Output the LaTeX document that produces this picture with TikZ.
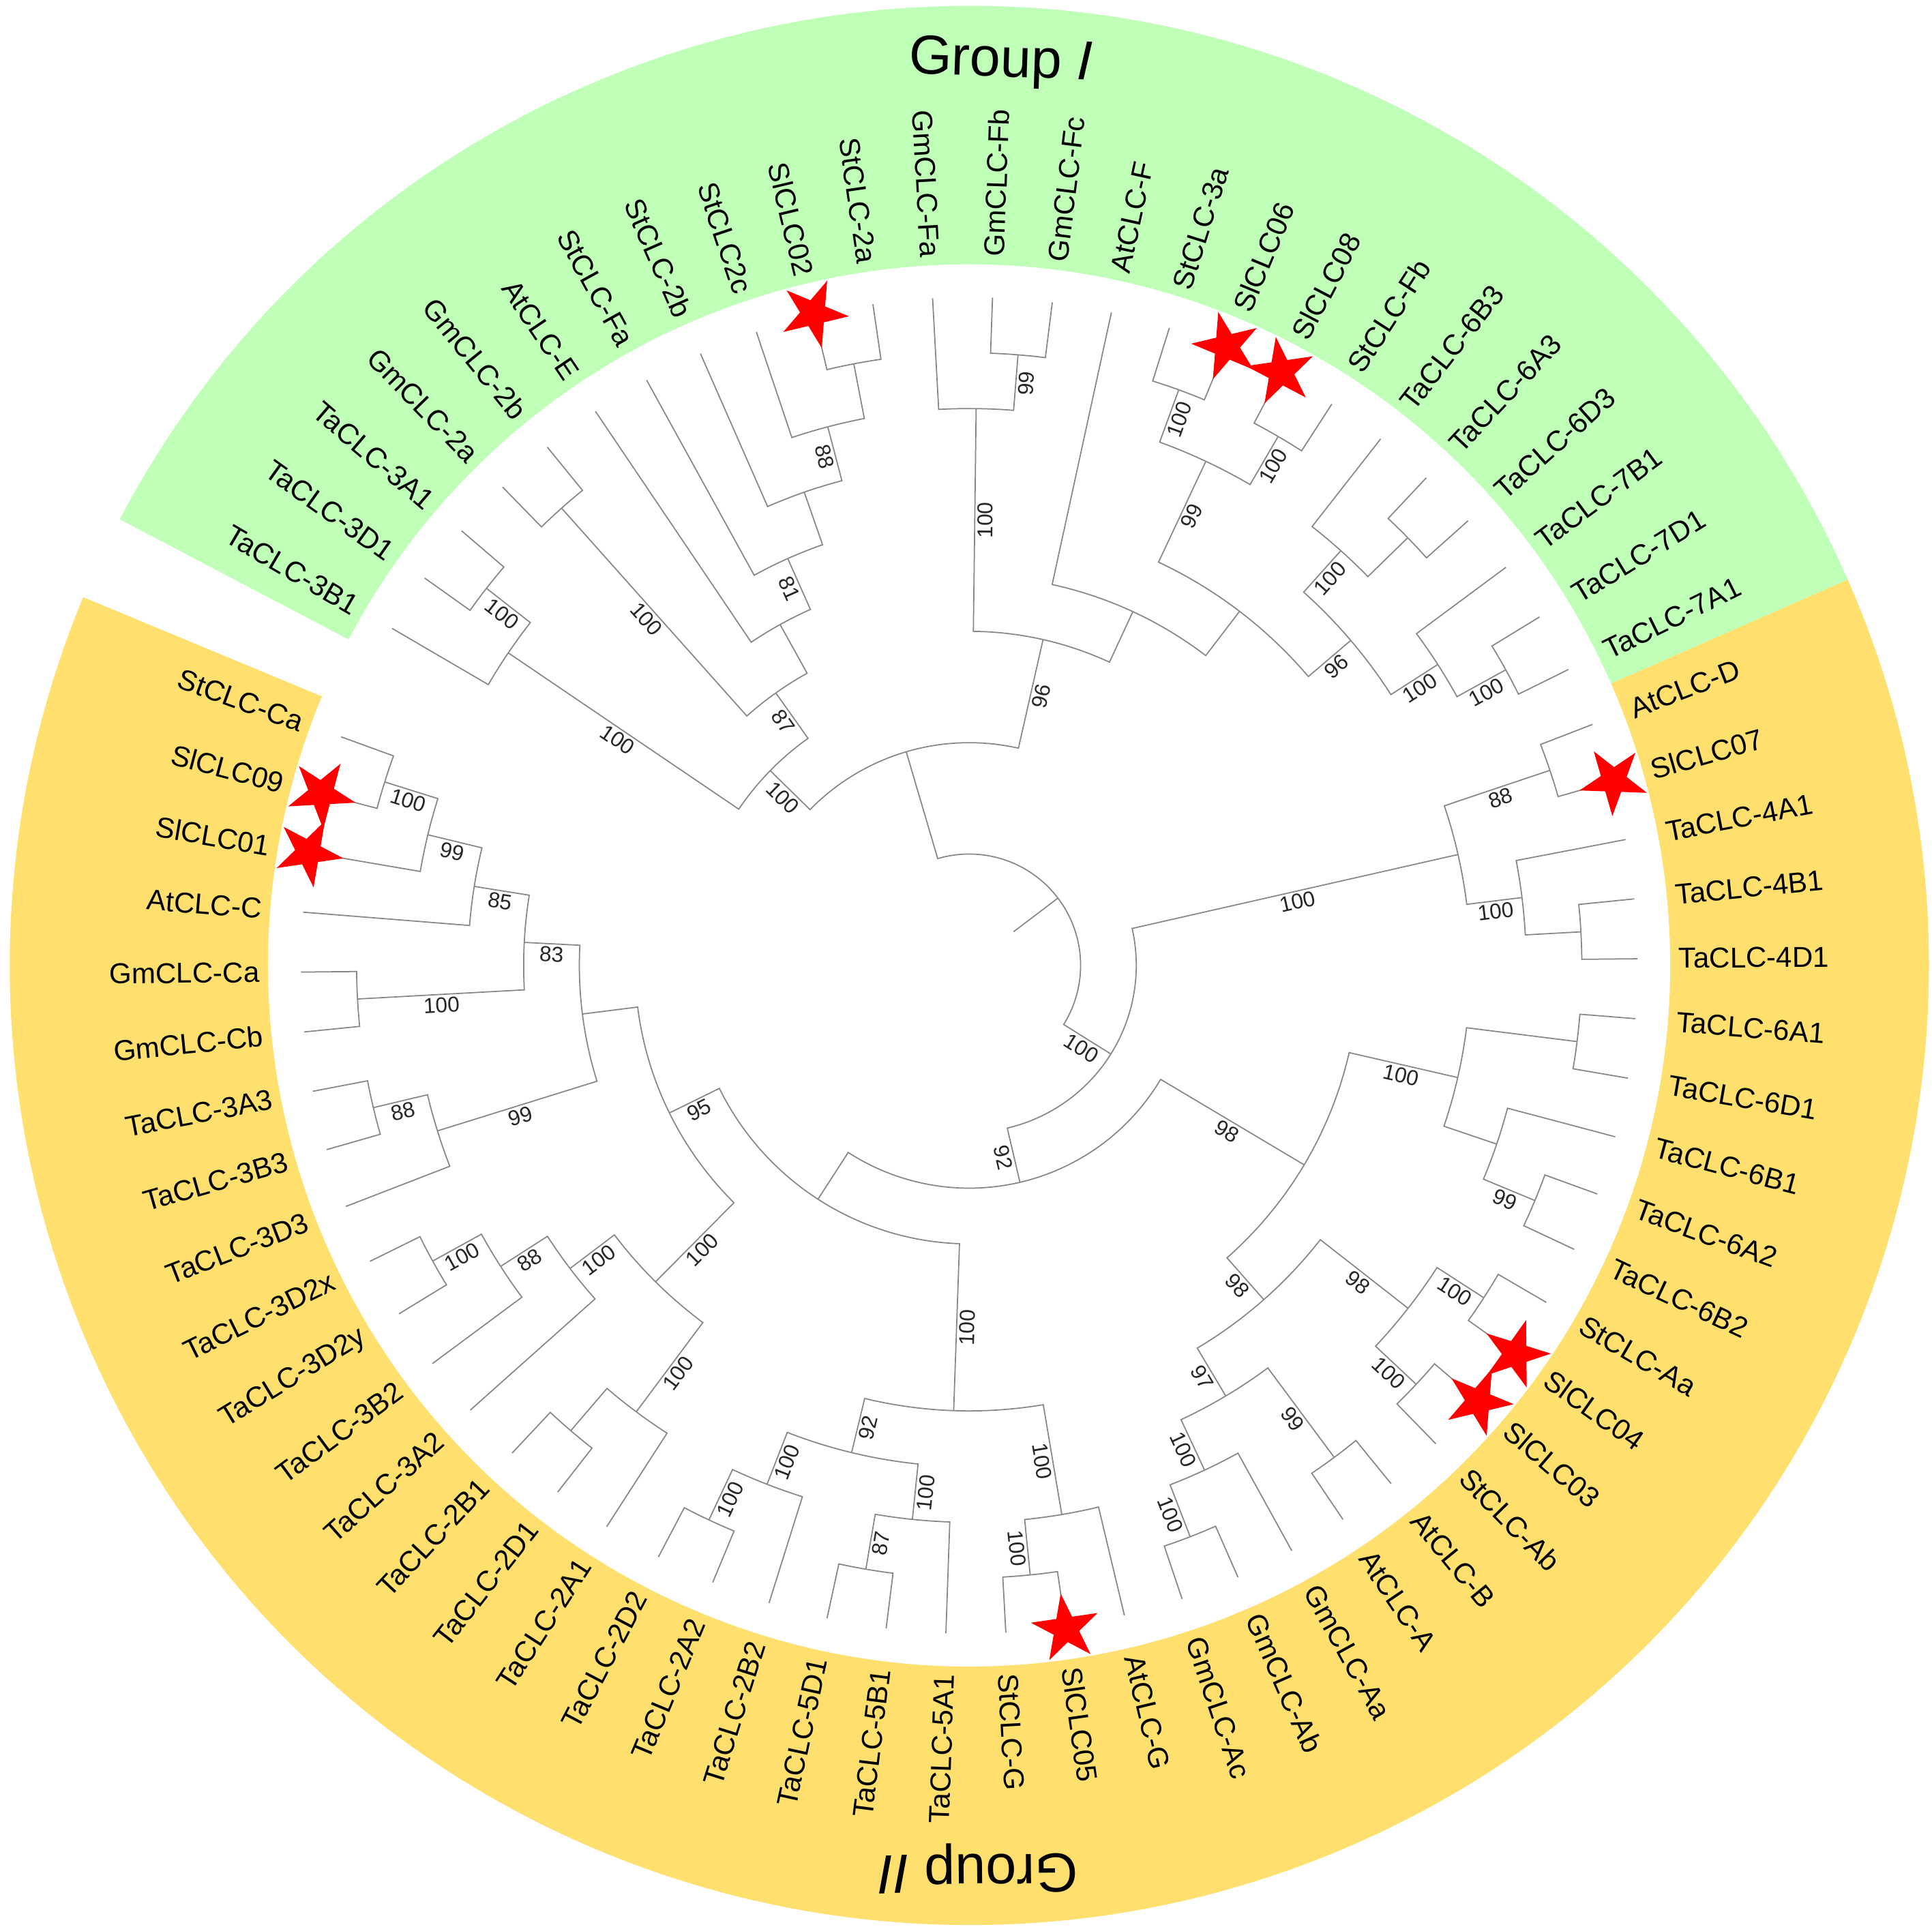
\documentclass[tikz,border=0pt]{standalone}
\usepackage{fontspec}
\setmainfont{Liberation Sans}
\usetikzlibrary{shapes.geometric}
\definecolor{groupone}{RGB}{192,255,184}
\definecolor{grouptwo}{RGB}{255,223,110}
\definecolor{branchgray}{RGB}{135,135,135}
\newcommand{\lvl}{0.81667}
\newcommand{\putboot}[2]{%
	\edef\bsval{\csname bs#1\endcsname}%
	\ifx\bsval\empty\else
		\edef\bang{\csname ang#1\endcsname}%
		\edef\blev{\csname lev#1\endcsname}%
		\pgfmathsetmacro\bmid{(#2+\blev)/2*\lvl}%
		\pgfmathsetmacro\brot{cos(\bang)<0 ? \bang+180 : \bang}%
		\node[bootval, rotate=\brot] (bs#1) at (\bang:\bmid) {\bsval};%
	\fi}
\newcommand{\clade}[5][]{%
	\edef\angA{\csname ang#3\endcsname}%
	\edef\angB{\csname ang#4\endcsname}%
	\pgfmathsetmacro\cang{(\angA+\angB)/2}%
	\pgfmathsetmacro\crad{#5*\lvl}%
	\expandafter\xdef\csname ang#2\endcsname{\cang}%
	\expandafter\xdef\csname lev#2\endcsname{#5}%
	\expandafter\gdef\csname bs#2\endcsname{#1}%
	\coordinate (#2) at (\cang:\crad);
	\draw[treeline] (#2) arc[start angle=\cang, end angle=\angA, radius=\crad] -- (#3);
	\draw[treeline] (#2) arc[start angle=\cang, end angle=\angB, radius=\crad] -- (#4);
	\putboot{#3}{#5}\putboot{#4}{#5}}
\begin{document}
\begin{tikzpicture}[
	treeline/.style={draw=branchgray, line width=0.5pt},
	leafname/.style={font=\fontsize{12}{14}\selectfont, inner sep=0pt},
	bootval/.style={font=\fontsize{9}{10}\selectfont, text=black!85, inner sep=1pt, anchor=north},
	slstar/.style={star, star points=5, star point ratio=2.618, fill=red, inner sep=0pt, minimum size=1.04cm},
	grouptext/.style={font=\fontsize{23}{27}\selectfont}]
	\fill[white] (-14.212,-14.092) rectangle (14.118,14.158);
	\useasboundingbox (-14.212,-14.092) rectangle (14.118,14.158);
	\fill[groupone] (23.71:10.28) arc[start angle=23.71, end angle=152.29, radius=10.28] -- (152.29:14.07) arc[start angle=152.29, end angle=23.71, radius=14.07] -- cycle;
	\fill[grouptwo] (157.43:10.28) arc[start angle=157.43, end angle=383.71, radius=10.28] -- (383.71:14.07) arc[start angle=383.71, end angle=157.43, radius=14.07] -- cycle;
	\node[grouptext, rotate=-2] (grpI) at (88:13.24) {Group \textit{I}};
	\node[grouptext, rotate=180.57] (grpII) at (270.57:13.24) {Group \textit{II}};
	\foreach \lab [count=\n from 0] in {StCLC-Ca,SlCLC09,SlCLC01,AtCLC-C,GmCLC-Ca,GmCLC-Cb,TaCLC-3A3,TaCLC-3B3,TaCLC-3D3,TaCLC-3D2x,TaCLC-3D2y,TaCLC-3B2,TaCLC-3A2,TaCLC-2B1,TaCLC-2D1,TaCLC-2A1,TaCLC-2D2,TaCLC-2A2,TaCLC-2B2,TaCLC-5D1,TaCLC-5B1,TaCLC-5A1,StCLC-G,SlCLC05,AtCLC-G,GmCLC-Ac,GmCLC-Ab,GmCLC-Aa,AtCLC-A,AtCLC-B,StCLC-Ab,SlCLC03,SlCLC04,StCLC-Aa,TaCLC-6B2,TaCLC-6A2,TaCLC-6B1,TaCLC-6D1,TaCLC-6A1,TaCLC-4D1,TaCLC-4B1,TaCLC-4A1,SlCLC07,AtCLC-D,TaCLC-7A1,TaCLC-7D1,TaCLC-7B1,TaCLC-6D3,TaCLC-6A3,TaCLC-6B3,StCLC-Fb,SlCLC08,SlCLC06,StCLC-3a,AtCLC-F,GmCLC-Fc,GmCLC-Fb,GmCLC-Fa,StCLC-2a,SlCLC02,StCLC2c,StCLC-2b,StCLC-Fa,AtCLC-E,GmCLC-2b,GmCLC-2a,TaCLC-3A1,TaCLC-3D1,TaCLC-3B1}{
		\pgfmathsetmacro\leafang{160+\n*5.142857}
		\pgfmathsetmacro\leafrad{12*\lvl}
		\expandafter\xdef\csname angl\n\endcsname{\leafang}
		\expandafter\xdef\csname levl\n\endcsname{12}
		\expandafter\gdef\csname bsl\n\endcsname{}
		\coordinate (l\n) at (\leafang:\leafrad);
		\pgfmathtruncatemacro\onleft{cos(\leafang)<0}
		\pgfmathsetmacro\leafrot{cos(\leafang)<0 ? \leafang+180 : \leafang}
		\ifnum\onleft=1 \def\leafanchor{east}\else\def\leafanchor{west}\fi
		\node[leafname, rotate=\leafrot, anchor=\leafanchor] (t\n) at (\leafang:10.40) {\lab};
	}
	\clade[100]{J6}{l0}{l1}{11}
	\clade[99]{J5}{J6}{l2}{10}
	\clade[85]{J4}{J5}{l3}{9}
	\clade[100]{J3}{l4}{l5}{11}
	\clade[83]{J2}{J4}{J3}{8}
	\clade[88]{J8}{l6}{l7}{11}
	\clade[99]{J7}{J8}{l8}{10}
	\clade{J1}{J2}{J7}{7}
	\clade[100]{K5}{l9}{l10}{11}
	\clade[88]{K4}{K5}{l11}{10}
	\clade[100]{K2}{K4}{l12}{9}
	\clade{K7}{l13}{l14}{11}
	\clade[100]{K6}{K7}{l15}{10}
	\clade[100]{K1}{K2}{K6}{8}
	\clade[95]{I1}{J1}{K1}{6}
	\clade[100]{H9}{l16}{l17}{11}
	\clade[100]{H8}{H9}{l18}{10}
	\clade[87]{H7}{l19}{l20}{11}
	\clade[100]{H6}{H7}{l21}{10}
	\clade[92]{H5}{H8}{H6}{9}
	\clade[100]{H4}{l22}{l23}{11}
	\clade[100]{H3}{H4}{l24}{10}
	\clade[100]{H2}{H5}{H3}{8}
	\clade{H1}{I1}{H2}{5}
	\clade[100]{F13}{l25}{l26}{11}
	\clade[100]{F12}{F13}{l27}{10}
	\clade[99]{F11}{l28}{l29}{11}
	\clade[97]{F10}{F12}{F11}{9}
	\clade[100]{F9}{l30}{l31}{11}
	\clade[100]{F8}{l32}{l33}{11}
	\clade[98]{F7}{F9}{F8}{10}
	\clade[98]{F6}{F10}{F7}{8}
	\clade[99]{F5}{l34}{l35}{11}
	\clade{F4}{F5}{l36}{10}
	\clade{F3}{l37}{l38}{11}
	\clade[100]{F2}{F4}{F3}{9}
	\clade[98]{F1}{F6}{F2}{7}
	\clade[92]{E1}{H1}{F1}{4}
	\clade{D4}{l39}{l40}{11}
	\clade[100]{D3}{D4}{l41}{10}
	\clade[88]{D2}{l42}{l43}{11}
	\clade[100]{D1}{D3}{D2}{9}
	\clade[100]{G2}{E1}{D1}{3}
	\clade[100]{R13}{l44}{l45}{11}
	\clade[100]{R12}{R13}{l46}{10}
	\clade{R11}{l47}{l48}{11}
	\clade[100]{R10}{R11}{l49}{10}
	\clade[96]{R9}{R12}{R10}{9}
	\clade[100]{R8}{l50}{l51}{11}
	\clade[100]{R7}{l52}{l53}{11}
	\clade[99]{R6}{R8}{R7}{10}
	\clade{R5}{R9}{R6}{8}
	\clade{R4}{R5}{l54}{7}
	\clade[99]{R3}{l55}{l56}{11}
	\clade[100]{R2}{R3}{l57}{10}
	\clade[96]{R1}{R4}{R2}{6}
	\clade{L7}{l58}{l59}{11}
	\clade[88]{L6}{L7}{l60}{10}
	\clade{L5}{L6}{l61}{9}
	\clade[81]{L4}{L5}{l62}{8}
	\clade{L3}{L4}{l63}{7}
	\clade[100]{Q1}{l64}{l65}{11}
	\clade[87]{L2}{L3}{Q1}{6}
	\clade[100]{P1b}{l66}{l67}{11}
	\clade[100]{P1}{P1b}{l68}{10}
	\clade[100]{L1}{L2}{P1}{5}
	\clade{G1}{R1}{L1}{4}
	\clade{root}{G2}{G1}{2}
	\coordinate (stub) at (\csname angroot\endcsname:\lvl);
	\draw[treeline] (root) -- (stub);
	\foreach \n in {1,2,23,31,32,42,51,52,59}{
		\edef\starang{\csname angl\n\endcsname}
		\node[slstar, rotate=\starang+90] (s\n) at (\starang:9.83) {};
	}
\end{tikzpicture}
\end{document}
